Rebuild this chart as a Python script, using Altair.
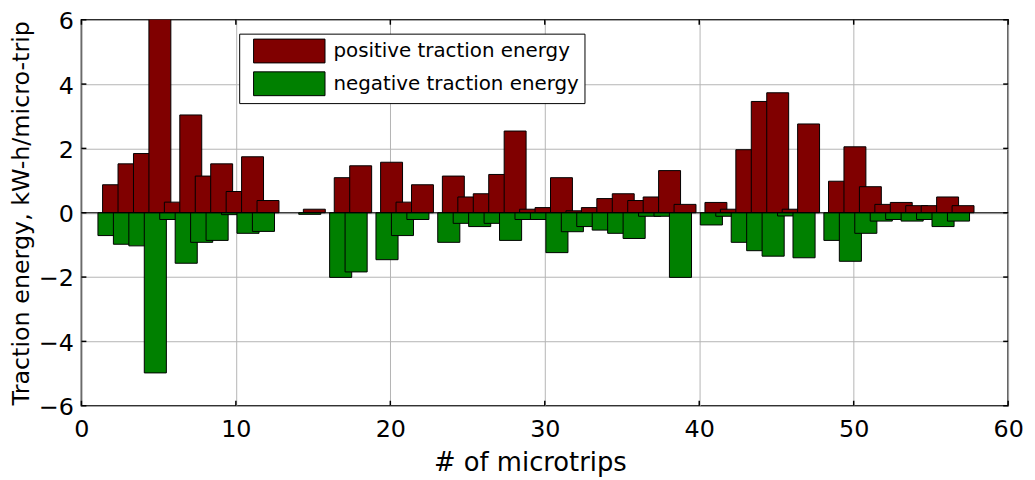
import altair as alt
import pandas as pd

POS = "positive traction energy"
NEG = "negative traction energy"

microtrip = list(range(1, 58))
positive = [0, 0.87, 1.52, 1.84, 7.0, 0.33, 3.04, 1.14, 1.52, 0.66,
            1.74, 0.38, 0, 0, 0.11, 0, 1.09, 1.46, 0, 1.57,
            0.33, 0.87, 0, 1.14, 0.49, 0.59, 1.19, 2.54, 0.11, 0.16,
            1.09, 0.06, 0.16, 0.44, 0.59, 0.38, 0.49, 1.31, 0.26, 0,
            0.32, 0.11, 1.96, 3.46, 3.73, 0.11, 2.76, 0, 0.98, 2.05,
            0.81, 0.26, 0.32, 0.22, 0.22, 0.49, 0.22]
negative = [0, -0.71, -0.98, -1.03, -4.98, -0.21, -1.57, -0.92, -0.86, -0.06,
            -0.64, -0.58, 0, 0, -0.05, 0, -2.01, -1.84, 0, -1.46,
            -0.71, -0.21, 0, -0.92, -0.33, -0.43, -0.33, -0.86, -0.21, -0.21,
            -1.24, -0.59, -0.43, -0.54, -0.64, -0.80, -0.11, -0.11, -2.01, 0,
            -0.38, -0.11, -0.92, -1.18, -1.35, -0.10, -1.40, 0, -0.86, -1.51,
            -0.64, -0.26, -0.21, -0.26, -0.21, -0.43, -0.26]
x_ticks = [0, 10, 20, 30, 40, 50, 60]
y_ticks = [-6, -4, -2, 0, 2, 4, 6]

rows = []
for n, v in zip(microtrip, positive):
    if v != 0:
        rows.append({"n": n, "value": v, "series": POS})
for n, v in zip(microtrip, negative):
    if v != 0:
        rows.append({"n": n, "value": v, "series": NEG})
df = pd.DataFrame(rows)

W, H = 934, 389
FONT = "DejaVu Sans"
xscale = alt.Scale(domain=[0, 60], nice=False, zero=False)
yscale = alt.Scale(domain=[-6, 6], nice=False)
xaxis = alt.Axis(values=x_ticks, title="# of microtrips",
                 labelPadding=12, labelFlush=False, titleFontSize=26,
                 titleX=452, titleY=65, titleAlign="center",
                 titleBaseline="alphabetic")
yaxis = alt.Axis(values=y_ticks, title="Traction energy, kW-h/micro-trip",
                 labelPadding=8, labelFlush=False, labelOffset=2, titleFontSize=24,
                 titleX=-53, titleY=H / 2, titleAngle=270,
                 titleAlign="center", titleBaseline="alphabetic")

bars = alt.Chart(df).transform_calculate(
    x0=f"datum.series == '{POS}' ? datum.n - 0.63 : datum.n - 0.93",
    x1=f"datum.series == '{POS}' ? datum.n + 0.79 : datum.n + 0.5",
    base="0",
).mark_bar(stroke="black", strokeWidth=1, clip=True).encode(
    x=alt.X("x0:Q", scale=xscale, axis=xaxis),
    x2="x1:Q",
    y=alt.Y("value:Q", scale=yscale, axis=yaxis),
    y2="base:Q",
    color=alt.Color("series:N",
                    scale=alt.Scale(domain=[POS, NEG], range=["#800000", "#008000"]),
                    legend=alt.Legend(title=None, orient="none", legendX=159, legendY=14,
                                      symbolType="M-3,-1H3V1H-3Z", symbolSize=576,
                                      symbolStrokeColor="black", symbolStrokeWidth=1,
                                      labelFont=FONT, labelFontSize=20, labelColor="black",
                                      labelOffset=32, rowPadding=4, padding=5,
                                      symbolOffset=33, fillColor="white",
                                      strokeColor="black", labelLimit=400)),
)

baseline = alt.Chart(pd.DataFrame({"value": [0]})).mark_rule(color="black", strokeWidth=1).encode(
    y=alt.Y("value:Q", scale=yscale, axis=yaxis)
)

ydf = pd.DataFrame({"value": y_ticks})
xdf = pd.DataFrame({"x0": x_ticks})
left_ticks = alt.Chart(ydf).mark_rule(color="black", strokeWidth=1.5).encode(
    y=alt.Y("value:Q", scale=yscale, axis=yaxis), x=alt.value(0), x2=alt.value(5))
right_ticks = alt.Chart(ydf).mark_rule(color="black", strokeWidth=1.5).encode(
    y=alt.Y("value:Q", scale=yscale, axis=yaxis), x=alt.value(W - 5), x2=alt.value(W))
top_ticks = alt.Chart(xdf).mark_rule(color="black", strokeWidth=1.5).encode(
    x=alt.X("x0:Q", scale=xscale, axis=xaxis), y=alt.value(0), y2=alt.value(5))
bottom_ticks = alt.Chart(xdf).mark_rule(color="black", strokeWidth=1.5).encode(
    x=alt.X("x0:Q", scale=xscale, axis=xaxis), y=alt.value(H - 5), y2=alt.value(H))

chart = alt.layer(bars, baseline, left_ticks, right_ticks, top_ticks, bottom_ticks).properties(
    width=W, height=H,
    autosize=alt.AutoSizeParams(type="none"),
    padding={"left": 74, "top": 10, "right": 19, "bottom": 72},
).configure_view(
    stroke="black", strokeWidth=1.5
).configure_axis(
    grid=True, gridColor="#b4b4b4", gridWidth=1, domain=False, ticks=False,
    labelFont=FONT, labelFontSize=24, labelColor="black",
    titleFont=FONT, titleFontWeight="normal", titleColor="black",
)

chart.save("out.html", embed_options={"renderer": "svg", "actions": False})
